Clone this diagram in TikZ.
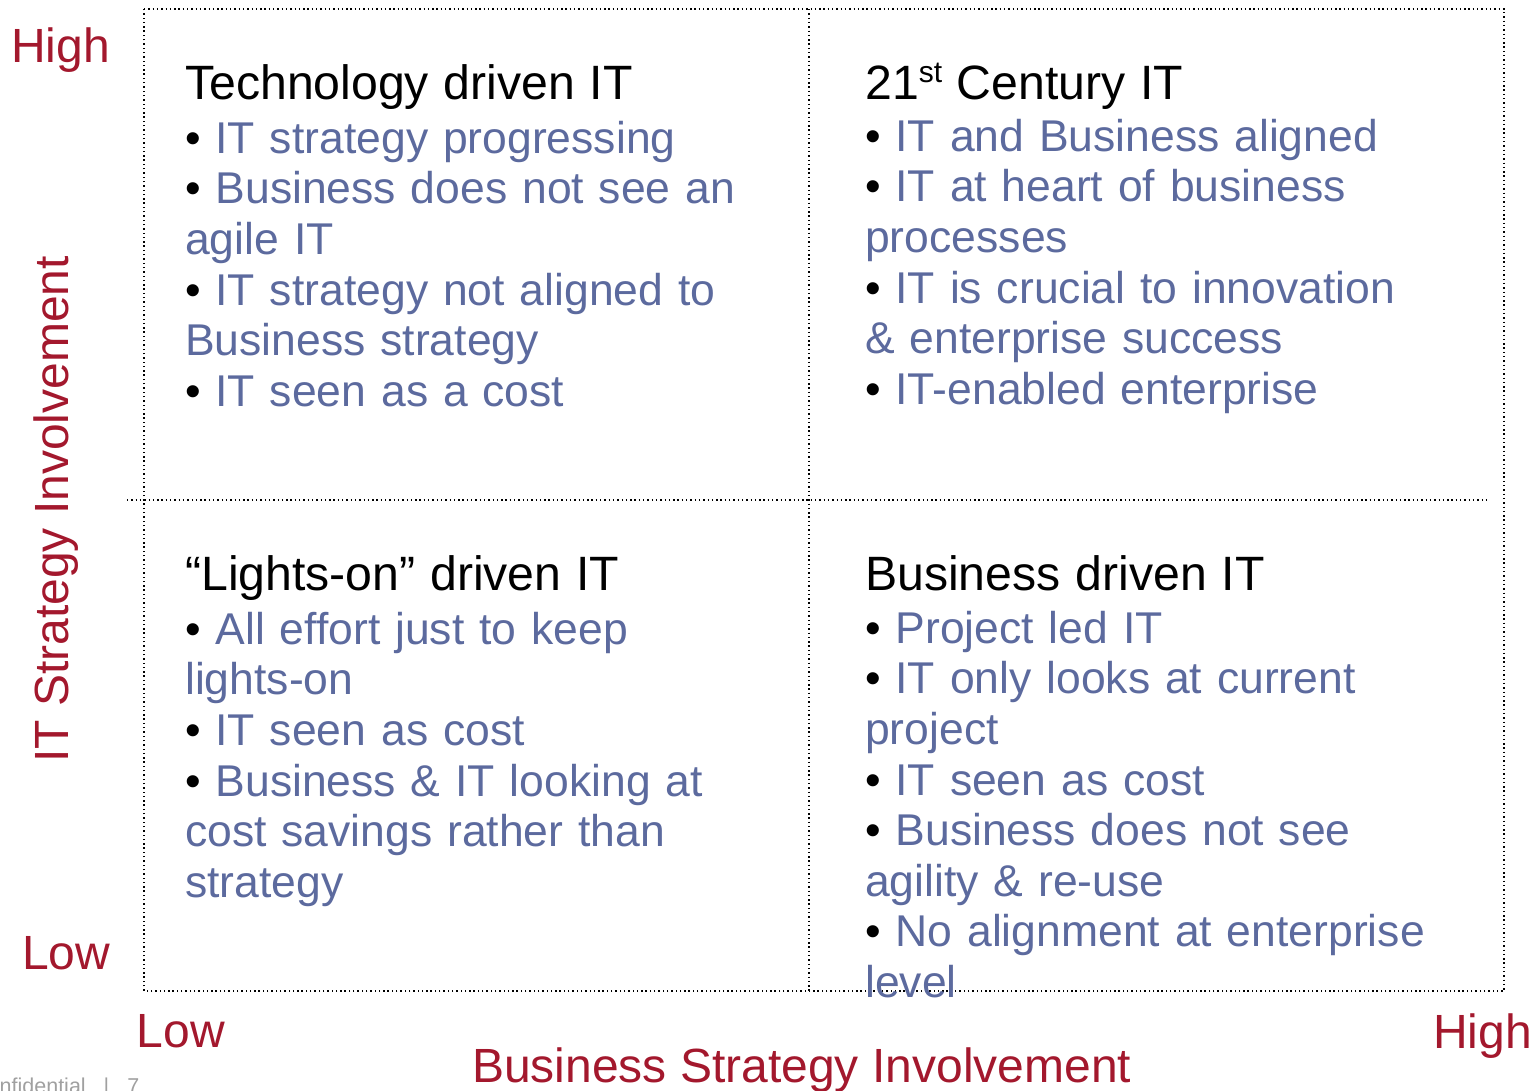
\documentclass[tikz,border=0pt]{standalone}
\usepackage{fontspec}
\setmainfont{Liberation Sans}
\definecolor{axisred}{RGB}{163,24,45}
\definecolor{itemblue}{RGB}{92,106,158}
\definecolor{footgrey}{RGB}{160,160,160}
\newcommand{\qbul}{\textcolor{black}{•}\ }
\newcommand{\qtitle}[1]{{\color{black}\fontsize{48.2}{50.6}\selectfont\rule{0pt}{40pt}#1}}
\begin{document}
\begin{tikzpicture}[x=1pt,y=-1pt,
  grid/.style={draw=black, line width=1.4pt, dash pattern=on 1.4pt off 2.9pt},
  axislabel/.style={text=axisred, font=\fontsize{48}{50}\selectfont, inner sep=0pt},
  quad/.style={anchor=north west, inner sep=0pt, text width=620pt, align=left, text=itemblue, font=\fontsize{44.5}{50.6}\selectfont},
]
\useasboundingbox (0,0) rectangle (1534,1090);
\clip (0,0) rectangle (1534,1090);
% frame coordinates
\coordinate (ctl) at (144,9);
\coordinate (ctr) at (1504,9);
\coordinate (cbr) at (1504,991);
\coordinate (cbl) at (144,991);
\coordinate (vtop) at (809,9);
\coordinate (vbot) at (809,991);
\coordinate (hleft) at (127,500);
\coordinate (hright) at (1490,500);
\draw[grid] (ctl) -- (ctr) -- (cbr) -- (cbl) -- cycle;
\draw[grid] (vtop) -- (vbot);
\draw[grid] (hleft) -- (hright);
% quadrants
\node[quad] (qtl) at (185,59) {\qtitle{Technology driven IT}\\[3.4pt]
\qbul IT strategy progressing\\
\qbul Business does not see an\\
agile IT\\
\qbul IT strategy not aligned to\\
Business strategy\\
\qbul IT seen as a cost};
\node[quad] (qtr) at (865,59) {\qtitle{21\raisebox{17pt}{\fontsize{30}{30}\selectfont st} Century IT}\\[1.4pt]
\qbul IT and Business aligned\\
\qbul IT at heart of business\\
processes\\
\qbul IT is crucial to innovation\\
\& enterprise success\\
\qbul IT-enabled enterprise};
\node[quad] (qbl) at (185,550) {\qtitle{“Lights-on” driven IT}\\[3.4pt]
\qbul All effort just to keep\\
lights-on\\
\qbul IT seen as cost\\
\qbul Business \& IT looking at\\
cost savings rather than\\
strategy};
\node[quad] (qbr) at (865,550) {\qtitle{Business driven IT}\\[2.4pt]
\qbul Project led IT\\
\qbul IT only looks at current\\
project\\
\qbul IT seen as cost\\
\qbul Business does not see\\
agility \& re-use\\
\qbul No alignment at enterprise\\
level};
% axis labels
\node[axislabel, anchor=base east] (yhigh) at (110,62) {High};
\node[axislabel, anchor=base east] (ylow) at (110.5,969) {Low};
\node[axislabel, anchor=base west] (xlow) at (136.5,1047) {Low};
\node[axislabel, anchor=base west] (xhigh) at (1433,1048) {High};
\node[axislabel, anchor=base west] (xlab) at (472,1082) {Business Strategy Involvement};
\node[axislabel, rotate=90, anchor=base west] (ylab) at (68,763) {IT Strategy Involvement};
% footer
\node[anchor=base east, text=footgrey, font=\fontsize{21.5}{22}\selectfont, inner sep=0pt] (foot) at (139.5,1093) {Confidential\hspace{18pt}|\hspace{18pt}7};
\end{tikzpicture}
\end{document}
